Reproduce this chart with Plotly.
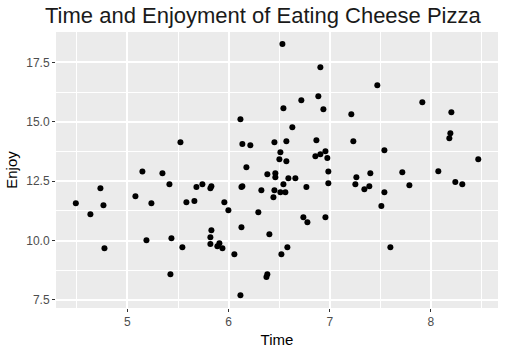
import plotly.graph_objects as go

time_vals = [4.49, 4.634, 4.733, 4.763, 4.773, 5.079, 5.148, 5.188, 5.237, 5.346,
             5.415, 5.425, 5.435, 5.524, 5.543, 5.583, 5.662, 5.682, 5.741, 5.820,
             5.830, 5.958, 5.998, 6.117, 6.127, 6.136, 6.136, 6.176, 6.215, 6.294,
             6.324, 6.383, 6.443, 6.453, 6.453, 6.462, 6.462, 6.502, 6.512, 6.512,
             6.532, 6.542, 6.542, 6.561, 6.571, 6.571, 6.591, 6.630, 6.660, 6.719,
             6.739, 6.769, 6.779, 6.858, 6.868, 6.887, 6.907, 6.907, 6.937, 6.957,
             6.957, 6.976, 6.986, 6.986, 7.213, 7.233, 7.253, 7.263, 7.342, 7.391,
             7.401, 7.470, 7.510, 7.540, 7.540, 7.599, 7.717, 7.787, 7.915, 8.073,
             8.182, 8.192, 8.202, 8.241, 8.310, 8.468, 5.830, 5.820, 5.820, 5.889,
             5.909, 5.939, 6.127, 6.403, 6.057, 6.522, 6.581, 6.383, 6.374, 6.117]

enjoy_vals = [11.57, 11.11, 12.20, 11.49, 9.68, 11.87, 12.91, 10.01, 11.57, 12.83,
              12.37, 8.58, 10.10, 14.14, 9.72, 11.61, 11.66, 12.25, 12.37, 12.20,
              12.29, 11.61, 11.28, 15.11, 12.25, 12.29, 14.06, 13.09, 14.01, 11.19,
              12.12, 12.79, 11.82, 12.12, 14.14, 12.83, 12.67, 13.42, 13.72, 12.03,
              18.27, 15.57, 12.37, 12.03, 14.18, 13.34, 12.62, 14.77, 12.62, 15.91,
              10.98, 12.25, 10.77, 13.55, 14.22, 16.08, 17.30, 13.63, 15.53, 13.76,
              10.98, 13.47, 12.91, 12.41, 15.32, 14.18, 12.37, 12.67, 12.16, 12.29,
              12.83, 16.54, 11.45, 13.80, 12.03, 9.72, 12.88, 12.33, 15.82, 12.92,
              14.31, 14.52, 15.40, 12.46, 12.37, 13.42, 10.43, 10.14, 9.85, 9.76,
              9.89, 9.68, 10.56, 10.27, 9.42, 9.42, 9.72, 8.58, 8.46, 7.70]

x_ticks = [5, 6, 7, 8]
y_ticks = [7.5, 10.0, 12.5, 15.0, 17.5]
y_tick_labels = ["7.5", "10.0", "12.5", "15.0", "17.5"]

font_family = "Liberation Sans, Arial, sans-serif"

fig = go.Figure(go.Scatter(
    x=time_vals, y=enjoy_vals, mode="markers",
    marker=dict(color="black", size=6, line=dict(width=0)),
    hoverinfo="skip",
))

axis_common = dict(
    showline=False, zeroline=False,
    gridcolor="white", gridwidth=1.6,
    ticks="outside", ticklen=3, tickwidth=1, tickcolor="#333333",
    tickfont=dict(family=font_family, size=12, color="#4d4d4d"),
)

fig.update_layout(
    width=506, height=353,
    margin=dict(l=56, r=8, t=32, b=45),
    paper_bgcolor="white", plot_bgcolor="#EBEBEB",
    showlegend=False,
    title=dict(text="Time and Enjoyment of Eating Cheese Pizza",
               font=dict(family=font_family, size=22, color="#1a1a1a"),
               xref="container", x=45 / 506, xanchor="left",
               yref="container", y=1 - 15 / 353, yanchor="middle"),
    xaxis=dict(range=[4.294, 8.663], tickvals=x_ticks,
               title=dict(text="Time", font=dict(family=font_family, size=15, color="black"), standoff=6),
               minor=dict(dtick=0.5, tick0=4.5, showgrid=True, gridcolor="white", gridwidth=0.8, ticks=""),
               **axis_common),
    yaxis=dict(range=[7.16, 18.78], tickvals=y_ticks, ticktext=y_tick_labels,
               title=dict(text="Enjoy", font=dict(family=font_family, size=15, color="black"), standoff=4),
               minor=dict(dtick=1.25, tick0=8.75, showgrid=True, gridcolor="white", gridwidth=0.8, ticks=""),
               **axis_common),
)

fig.write_html("out.html")
